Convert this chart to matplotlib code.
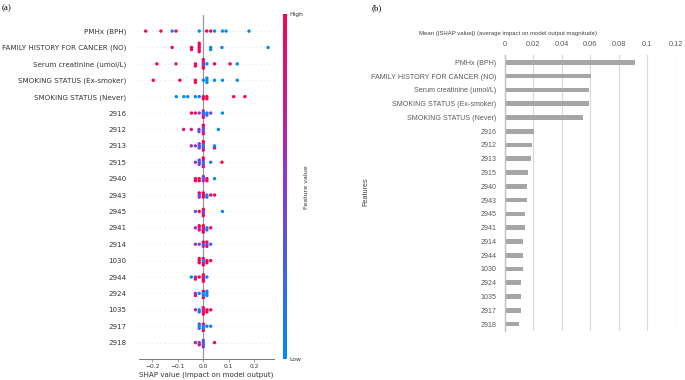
import numpy as np
import matplotlib
matplotlib.use("Agg")
import matplotlib.pyplot as plt
from matplotlib.colors import LinearSegmentedColormap
from matplotlib.cm import ScalarMappable

# ---------------- data: panel (a) beeswarm ----------------
features_a = ["PMHx (BPH)", "FAMILY HISTORY FOR CANCER (NO)", "Serum creatinine (umol/L)",
              "SMOKING STATUS (Ex-smoker)", "SMOKING STATUS (Never)", "2916", "2912", "2913",
              "2915", "2940", "2943", "2945", "2941", "2914", "1030", "2944", "2924", "1035",
              "2917", "2918"]

shap_pmhx = [-0.226, -0.166, -0.122, -0.107, -0.016, 0.013, 0.029, 0.044, 0.075, 0.089, 0.179]
fval_pmhx = [1, 1, 0, 1, 0, 1, 1, 0, 0, 0, 0]
shap_family = [-0.122, -0.046, -0.046, -0.016, -0.016, -0.016, -0.016, -0.016, 0.029, 0.029, 0.073, 0.254]
fval_family = [1, 1, 1, 1, 1, 1, 1, 1, 0, 0, 0, 0]
shap_serum = [-0.182, -0.107, -0.031, -0.031, 0.0, 0.0, 0.0, 0.0, 0.0, 0.014, 0.044, 0.105, 0.133]
fval_serum = [1, 0.75, 1, 0.8, 0.7, 1, 0.6, 1, 0.8, 0, 1, 1, 0]
shap_exsmoker = [-0.196, -0.092, -0.031, -0.031, 0.0, 0.014, 0.014, 0.014, 0.044, 0.075, 0.133]
fval_exsmoker = [1, 1, 1, 1, 0, 0, 0, 0, 0, 0, 0]
shap_never = [-0.106, -0.076, -0.061, -0.031, -0.016, 0.0, 0.0, 0.014, 0.014, 0.119, 0.163]
fval_never = [0, 0, 0, 0, 0, 1, 1, 1, 1, 1, 1]
shap_2916 = [-0.046, -0.031, -0.016, 0.0, 0.0, 0.0, 0.0, 0.014, 0.014, 0.029, 0.075]
fval_2916 = [1, 0.9, 0.55, 0.6, 0.3, 1, 0.5, 0, 0.1, 0.4, 0]
shap_2912 = [-0.077, -0.047, -0.017, -0.017, 0.0, 0.0, 0.0, 0.0, 0.0, 0.059]
fval_2912 = [0.75, 0.75, 0.5, 0.4, 1, 0.5, 1, 0.4, 0.6, 0]
shap_2913 = [-0.047, -0.031, -0.016, -0.016, -0.016, 0.0, 0.0, 0.0, 0.0, 0.0, 0.044, 0.044]
fval_2913 = [0.6, 0.55, 0.45, 0.3, 0.5, 1, 0.5, 0.2, 1, 0.4, 1, 0]
shap_2915 = [-0.031, -0.016, -0.016, -0.016, 0.0, 0.0, 0.0, 0.0, 0.0, 0.029, 0.073]
fval_2915 = [0.5, 0.4, 0.5, 0.35, 1, 0, 0.5, 1, 0.4, 0.1, 1]
shap_2940 = [-0.031, -0.031, -0.016, -0.016, 0.0, 0.0, 0.0, 0.014, 0.014, 0.044]
fval_2940 = [1, 1, 1, 1, 0.5, 0.2, 0.5, 1, 1, 0]
shap_2943 = [-0.016, -0.016, -0.016, 0.0, 0.0, 0.0, 0.014, 0.014, 0.029, 0.044]
fval_2943 = [0.5, 1, 0.4, 1, 1, 1, 0, 0.1, 1, 1]
shap_2945 = [-0.031, -0.016, 0.0, 0.0, 0.0, 0.0, 0.075]
fval_2945 = [0.35, 1, 1, 0.5, 1, 0.7, 0]
shap_2941 = [-0.031, -0.016, -0.016, -0.016, 0.0, 0.0, 0.0, 0.0, 0.014, 0.014, 0.029]
fval_2941 = [0.6, 1, 0.5, 1, 1, 0.8, 1, 1, 0, 0.1, 1]
shap_2914 = [-0.031, -0.016, 0.0, 0.0, 0.0, 0.014, 0.014, 0.014, 0.029]
fval_2914 = [0.6, 0.5, 0, 1, 0.5, 1, 0.5, 0.9, 0.1]
shap_1030 = [-0.016, -0.016, -0.016, 0.0, 0.0, 0.0, 0.0, 0.014, 0.014, 0.029]
fval_1030 = [1, 1, 1, 1, 0.5, 0, 1, 1, 1, 1]
shap_2944 = [-0.047, -0.031, -0.031, -0.016, 0.0, 0.0, 0.0, 0.0, 0.014]
fval_2944 = [0, 1, 0.6, 1, 1, 1, 0.8, 1, 0]
shap_2924 = [-0.031, -0.031, -0.016, 0.0, 0.0, 0.0, 0.0, 0.014, 0.014, 0.014]
fval_2924 = [1, 0.6, 0, 1, 0, 1, 0.2, 0, 0.1, 0]
shap_1035 = [-0.031, -0.016, -0.016, 0.0, 0.0, 0.0, 0.0, 0.014, 0.014, 0.029]
fval_1035 = [0.6, 0, 0.2, 1, 1, 0.8, 1, 1, 1, 1]
shap_2917 = [-0.016, -0.016, -0.016, 0.0, 0.0, 0.0, 0.0, 0.014, 0.029]
fval_2917 = [0.2, 0.4, 0, 1, 0, 1, 0.3, 0.2, 0]
shap_2918 = [-0.031, -0.016, -0.016, 0.0, 0.0, 0.0, 0.0, 0.044]
fval_2918 = [0.75, 1, 0.5, 0, 0.4, 0.3, 0.5, 1]

shap_rows = [shap_pmhx, shap_family, shap_serum, shap_exsmoker, shap_never, shap_2916, shap_2912,
             shap_2913, shap_2915, shap_2940, shap_2943, shap_2945, shap_2941, shap_2914, shap_1030,
             shap_2944, shap_2924, shap_1035, shap_2917, shap_2918]
fval_rows = [fval_pmhx, fval_family, fval_serum, fval_exsmoker, fval_never, fval_2916, fval_2912,
             fval_2913, fval_2915, fval_2940, fval_2943, fval_2945, fval_2941, fval_2914, fval_1030,
             fval_2944, fval_2924, fval_1035, fval_2917, fval_2918]
xticks_a = [-0.2, -0.1, 0.0, 0.1, 0.2]

# ---------------- data: panel (b) bar chart ----------------
features_b = ["PMHx (BPH)", "FAMILY HISTORY FOR CANCER (NO)", "Serum creatinine (umol/L)",
              "SMOKING STATUS (Ex-smoker)", "SMOKING STATUS (Never)", "2916", "2912", "2913",
              "2915", "2940", "2943", "2945", "2941", "2914", "2944", "1030", "2924", "1035",
              "2917", "2918"]
mean_abs_shap = [0.0914, 0.0605, 0.0593, 0.0593, 0.0551, 0.0208, 0.0194, 0.0182, 0.0166, 0.0154,
                 0.0154, 0.0140, 0.0140, 0.0126, 0.0126, 0.0126, 0.0112, 0.0112, 0.0112, 0.0098]
xticks_b = [0, 0.02, 0.04, 0.06, 0.08, 0.10, 0.12]
xticklabels_b = ["0", "0.02", "0.04", "0.06", "0.08", "0.1", "0.12"]

# ---------------- figure ----------------
W, H = 685, 380
fig = plt.figure(figsize=(W / 100, H / 100), dpi=100)

def fx(px):
    return px / W

def fy(py):
    return 1 - py / H

cmap = LinearSegmentedColormap.from_list(
    "shap_red_blue",
    [(0.0, "#008afb"), (0.25, "#3c63ee"), (0.5, "#8a3ad0"), (0.75, "#c91a95"), (1.0, "#ff0051")])

# ---- panel (a) ----
ax = fig.add_axes([fx(139), fy(359), fx(274) - fx(139), fy(15) - fy(359)])
binw = 0.0147
dy = 0.13
for i, (s, c) in enumerate(zip(shap_rows, fval_rows)):
    s = np.asarray(s, float)
    c = np.asarray(c, float)
    ax.axhline(i, color="#cccccc", lw=0.5, dashes=(1, 5), zorder=-1)
    q = np.round(s / binw).astype(int)
    order = np.lexsort((c, q))
    ys = np.zeros(len(s))
    layer, last = 0, None
    for ind in order:
        if q[ind] != last:
            layer = 0
        ys[ind] = np.ceil(layer / 2) * ((layer % 2) * 2 - 1)
        layer += 1
        last = q[ind]
    ax.scatter(s, i + ys * dy, c=c, cmap=cmap, vmin=0, vmax=1, s=6, lw=0, zorder=3)

ax.axvline(0, color="#999999", lw=0.9, zorder=1)
ax.set_xlim(-0.252, 0.277)
ax.set_ylim(20, -0.98)
ax.set_yticks(range(len(features_a)))
ax.set_yticklabels(features_a, fontsize=5.1, color="#333333")
ax.tick_params(axis="y", length=0, pad=9)
ax.set_xticks(xticks_a)
ax.set_xticklabels([f"{t:.1f}".replace("-", "\u2212") for t in xticks_a], fontsize=4.3, color="#333333")
ax.tick_params(axis="x", length=2, width=0.5, pad=1.5, color="#777777")
for sp in ["left", "right", "top"]:
    ax.spines[sp].set_visible(False)
ax.spines["bottom"].set_color("#777777")
ax.spines["bottom"].set_linewidth(0.7)
ax.set_xlabel("SHAP value (impact on model output)", fontsize=5.1, color="#333333", labelpad=2)

cax = fig.add_axes([fx(283), fy(359), fx(4), fy(14) - fy(359)])
sm = ScalarMappable(cmap=cmap, norm=plt.Normalize(0, 1))
cb = fig.colorbar(sm, cax=cax, ticks=[0, 1])
cb.set_ticklabels(["Low", "High"])
cb.outline.set_visible(False)
cax.tick_params(length=0, pad=1.5, labelsize=4.3, labelcolor="#333333")
fig.text(fx(306), fy(187), "Feature value", rotation=90, ha="center", va="center",
         fontsize=4.6, color="#333333")

fig.text(fx(2), fy(8), "(a)", family="Liberation Serif", fontsize=6.5, ha="left", va="center")

# ---- panel (b) ----
ax2 = fig.add_axes([fx(504.7), fy(331), fx(675.7) - fx(504.7), fy(55) - fy(331)])
ax2.barh(range(len(features_b)), mean_abs_shap, height=0.34, color="#a6a6a6", zorder=2)
ax2.set_xlim(0, 0.12)
ax2.set_ylim(19.5, -0.53)
ax2.xaxis.tick_top()
ax2.set_xticks(xticks_b)
ax2.set_xticklabels(xticklabels_b, family="Liberation Sans", fontsize=5.3, color="#595959")
ax2.set_yticks(range(len(features_b)))
ax2.set_yticklabels(features_b, family="Liberation Sans", fontsize=5.1, color="#595959")
ax2.tick_params(axis="both", length=0)
ax2.tick_params(axis="x", pad=5)
ax2.tick_params(axis="y", pad=6)
ax2.grid(axis="x", color="#d9d9d9", lw=0.8, zorder=0)
ax2.set_axisbelow(True)
for sp in ["right", "top", "bottom"]:
    ax2.spines[sp].set_visible(False)
ax2.spines["left"].set_color("#bfbfbf")
ax2.spines["left"].set_linewidth(1.0)

fig.text(fx(508), fy(33), "Mean (|SHAP value|) (average impact on model output magnitude)",
         family="Liberation Sans", fontsize=4.3, color="#404040", ha="center", va="center")
fig.text(fx(366), fy(192), "Features", family="Liberation Sans", fontsize=5.2, color="#404040",
         rotation=90, ha="center", va="center")
fig.text(fx(372), fy(8), "(b)", family="Liberation Serif", fontsize=6.5, ha="left", va="center")

fig.savefig("out.png", dpi=100)
